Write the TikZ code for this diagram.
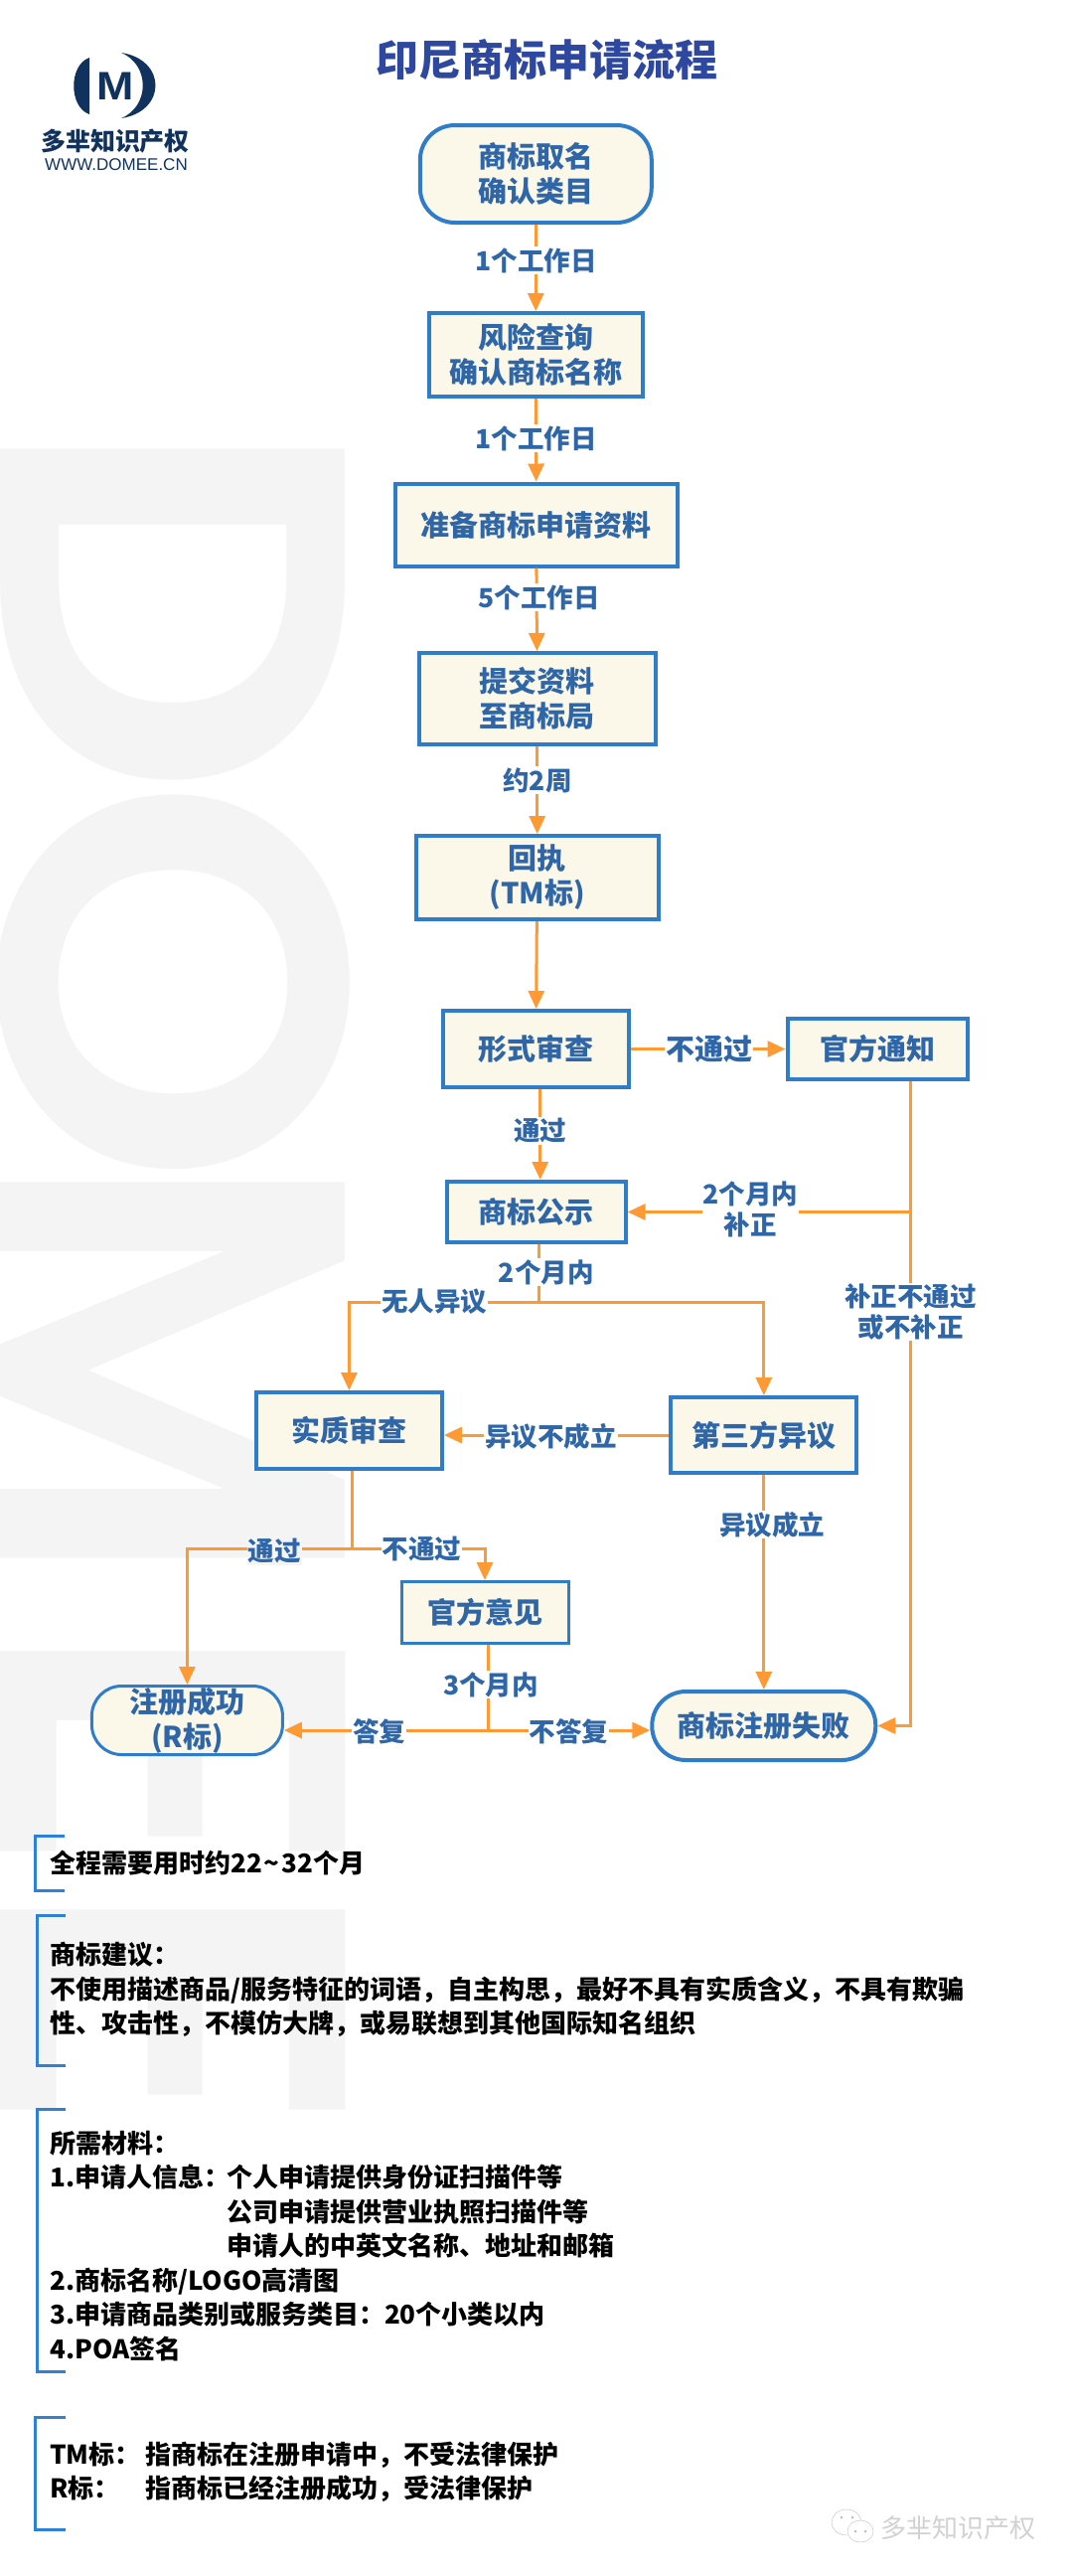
\documentclass[tikz,border=0pt]{standalone}
\usepackage{fontspec}
\setmainfont{Noto Sans CJK SC}
\newfontfamily\wmfont{Poppins}[UprightFont=* SemiBold]
\newfontfamily\logofont{Liberation Sans}
\usetikzlibrary{arrows.meta}
\definecolor{wmgray}{HTML}{F4F4F4}
\definecolor{boxfill}{HTML}{FBF8EA}
\definecolor{boxline}{HTML}{2F7CC9}
\definecolor{flowtext}{HTML}{2F66A8}
\definecolor{flowline}{HTML}{FF9933}
\definecolor{titleblue}{HTML}{2E479F}
\definecolor{logonavy}{HTML}{10325C}
\definecolor{brk}{HTML}{2F80D8}
\tikzset{
 wm/.style={rotate=-90, anchor=base west, inner sep=0, text=wmgray, font=\wmfont\fontsize{497}{497}\selectfont},
 stepbox/.style={draw=boxline, line width=4pt, fill=boxfill, text=flowtext, inner sep=0, align=center, font=\fontsize{29}{35}\bfseries\selectfont},
 lbl/.style={fill=white, text=flowtext, inner sep=1pt, align=center, font=\fontsize{26.5}{31}\bfseries\selectfont},
 link/.style={draw=flowline, line width=3pt},
 linka/.style={link, -{Triangle[length=18pt,width=16pt]}},
 brack/.style={draw=brk, line width=3pt},
 note/.style={anchor=west, inner sep=0, align=left, text=black, font=\fontsize{26}{34.5}\bfseries\selectfont}
}
\begin{document}
\begin{tikzpicture}[x=1pt, y=-1pt]
\useasboundingbox (0,0) rectangle (1080,2592);
\clip (0,0) rectangle (1080,2592);
\foreach \ch/\yy/\sx in {D/414/1.095,O/781/1.06,M/1155/1,E/1627/1,E/1887/1} {
 \node[wm, xscale=\sx] at (0,\yy) {\ch};
}

\fill[logonavy] (90,58) .. controls (69,65) and (69,108) .. (90,115) -- cycle;
\fill[logonavy] (122,53) .. controls (168,60) and (168,112) .. (122,119) .. controls (151,107) and (151,65) .. (122,53) -- cycle;
\node[inner sep=0, text=logonavy, xscale=1.12, font=\logofont\fontsize{40}{40}\bfseries\selectfont] (logom) at (116,87) {M};
\node[inner sep=0, text=logonavy, font=\fontsize{25}{25}\bfseries\selectfont] (logocn) at (116,142) {多芈知识产权};
\node[inner sep=0, text=logonavy, font=\logofont\fontsize{17}{17}\selectfont] (logoen) at (117,166) {WWW.DOMEE.CN};
\node[inner sep=0, text=titleblue, font=\fontsize{43}{43}\bfseries\selectfont] (title) at (550.5,60) {印尼商标申请流程};

\node[stepbox, rounded corners=35pt, minimum width=233pt, minimum height=98pt] (quming) at (539.3,175) {商标取名\\确认类目};
\node[stepbox, minimum width=215pt, minimum height=84pt] (chaxun) at (539.3,357) {风险查询\\确认商标名称};
\node[stepbox, minimum width=284pt, minimum height=83pt] (ziliao) at (539.7,528) {准备商标申请资料};
\node[stepbox, minimum width=238pt, minimum height=92pt] (tijiao) at (540.7,703) {提交资料\\至商标局};
\node[stepbox, minimum width=244pt, minimum height=84pt] (huizhi) at (540.7,883) {回执\\(TM标)};
\node[stepbox, minimum width=187pt, minimum height=77pt] (xingshi) at (539.3,1055.5) {形式审查};
\node[stepbox, minimum width=181pt, minimum height=61pt] (tongzhi) at (883,1055.5) {官方通知};
\node[stepbox, minimum width=180pt, minimum height=61pt] (gongshi) at (539.7,1219.5) {商标公示};
\node[stepbox, minimum width=187pt, minimum height=77pt] (shizhi) at (351.4,1439.5) {实质审查};
\node[stepbox, minimum width=187pt, minimum height=76pt] (yiyi) at (768.8,1444) {第三方异议};
\node[stepbox, line width=3pt, minimum width=168pt, minimum height=62pt] (yijian) at (488,1622.5) {官方意见};
\node[stepbox, line width=3pt, rounded corners=30pt, minimum width=192pt, minimum height=69pt] (chenggong) at (188.4,1731) {注册成功\\(R标)};
\node[stepbox, rounded corners=34pt, minimum width=225pt, minimum height=69pt] (shibai) at (768.8,1736.5) {商标注册失败};

\coordinate (bz) at (916.5,1219.5);
\coordinate (gj) at (542.7,1310);
\coordinate (sj) at (354.9,1558);
\coordinate (yj) at (491,1741);
\coordinate (tg) at (543.7,1140);

\draw[linka] (quming) -- (chaxun);
\draw[linka] (chaxun) -- (ziliao);
\draw[linka] (ziliao) -- (tijiao);
\draw[linka] (tijiao) -- (huizhi);
\draw[linka] (huizhi) -- (xingshi);
\draw[linka] (xingshi) -- (tongzhi);
\draw[linka] (xingshi.south -| tg) -- (gongshi.north -| tg);
\draw[link] (tongzhi.south -| bz) -- (bz);
\draw[linka] (bz) -- (gongshi);
\draw[linka] (bz) |- (shibai);
\draw[link] (gongshi.south -| gj) -- (gj);
\draw[linka] (gj) -| (shizhi);
\draw[linka] (gj) -| (yiyi);
\draw[linka] (yiyi.west) -- (yiyi.west -| shizhi.east);
\draw[linka] (yiyi) -- (shibai);
\draw[link] (shizhi.south -| sj) -- (sj);
\draw[linka] (sj) -| (chenggong);
\draw[linka] (sj) -| (yijian);
\draw[link] (yijian.south -| yj) -- (yj);
\draw[linka] (yj) -- (yj -| chenggong.east);
\draw[linka] (yj) -- (yj -| shibai.west);

\node[lbl] (t1) at (539.5,262) {1个工作日};
\node[lbl] (t2) at (539.5,441) {1个工作日};
\node[lbl] (t3) at (542.5,601) {5个工作日};
\node[lbl] (t4) at (541,785) {约2周};
\node[lbl, font=\fontsize{29}{31}\bfseries\selectfont] (butg) at (713.7,1056) {不通过};
\node[lbl] (tgxs) at (543.7,1138) {通过};
\node[lbl] (yue2) at (755.4,1217) {2个月内\\补正};
\node[lbl] (bubu) at (916.5,1320) {补正不通过\\或不补正};
\node[lbl] (gs2) at (549.7,1280) {2个月内};
\node[lbl] (wuren) at (437.4,1310) {无人异议};
\node[lbl] (bucl) at (554.7,1445) {异议不成立};
\node[lbl] (cl) at (777.3,1534) {异议成立};
\node[lbl, fill=wmgray] (tgsz) at (276.3,1561) {通过};
\node[lbl] (butgsz) at (424.4,1559) {不通过};
\node[lbl] (yue3) at (494,1695) {3个月内};
\node[lbl] (dafu) at (381.7,1742) {答复};
\node[lbl] (budafu) at (572.5,1742) {不答复};

\foreach \xa/\xb/\ya/\yb in {35/65/1847/1902, 37/66/1927/2078, 37/66/2122/2386, 35/66/2432/2545} {
 \draw[brack] (\xb,\ya) -- (\xa,\ya) -- (\xa,\yb) -- (\xb,\yb);
}
\node[note] (nshi) at (50,1875) {全程需要用时约22\kern2pt\textasciitilde\kern2pt32个月};
\node[note] (njian) at (50,2002) {商标建议：\\不使用描述商品/服务特征的词语，自主构思，最好不具有实质含义，不具有欺骗\\性、攻击性，不模仿大牌，或易联想到其他国际知名组织};
\node[note] (ncai) at (50,2260) {所需材料：\\\makebox[178pt][l]{1.申请人信息：}个人申请提供身份证扫描件等\\\hspace*{178pt}公司申请提供营业执照扫描件等\\\hspace*{178pt}申请人的中英文名称、地址和邮箱\\2.商标名称/LOGO高清图\\3.申请商品类别或服务类目：20个小类以内\\4.POA签名};
\node[note] (nbiao) at (50,2487.5) {\makebox[96pt][l]{TM标：}指商标在注册申请中，不受法律保护\\\makebox[96pt][l]{R标：}指商标已经注册成功，受法律保护};

\draw[lightgray, fill=white] (852,2538) ellipse (15pt and 13pt);
\draw[lightgray, fill=white] (866,2547) ellipse (13pt and 11pt);
\foreach \dx/\dy in {847/2533,858/2533,861/2547,871/2547} {
 \fill[lightgray] (\dx,\dy) circle (1.5pt);
}
\node[inner sep=0, text=black!18, font=\fontsize{26}{26}\selectfont] (wx) at (964,2544) {多芈知识产权};
\end{tikzpicture}
\end{document}
